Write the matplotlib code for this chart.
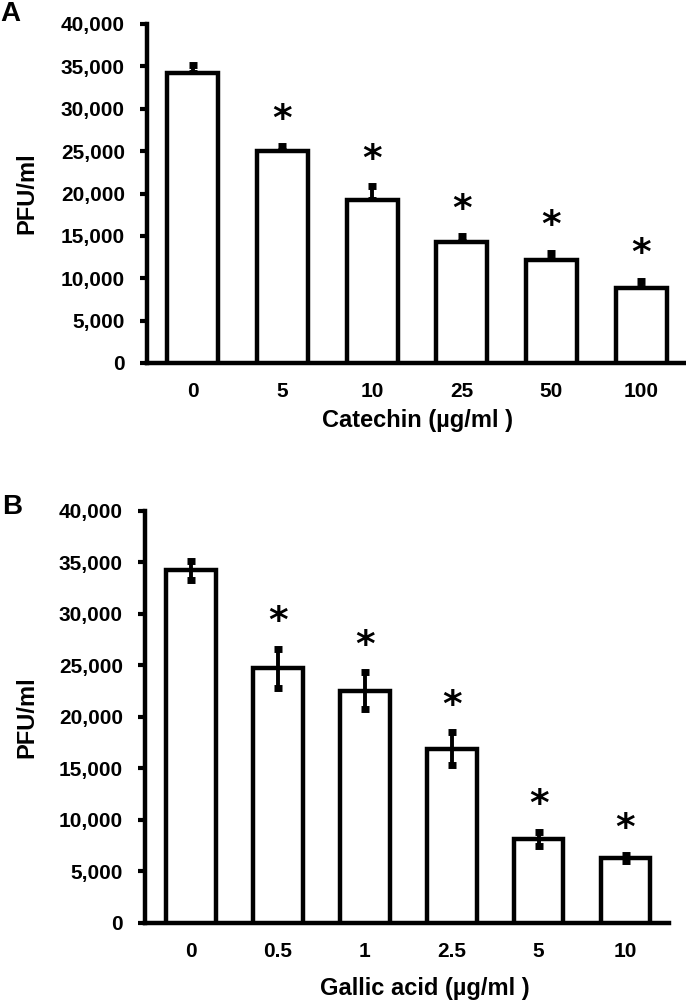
import matplotlib
matplotlib.use("Agg")
import matplotlib.pyplot as plt
from matplotlib.ticker import FuncFormatter

plt.rcParams['font.family'] = ['Liberation Sans', 'DejaVu Sans']
plt.rcParams['font.weight'] = 'bold'

# Panel A data
cat_labels = ['0', '5', '10', '25', '50', '100']
cat_values = [34200, 25000, 19200, 14300, 12200, 8800]
cat_err = [1000, 600, 1700, 700, 800, 900]
cat_sig = [False, True, True, True, True, True]

# Panel B data
gal_labels = ['0', '0.5', '1', '2.5', '5', '10']
gal_values = [34200, 24700, 22500, 16900, 8150, 6250]
gal_err = [950, 1900, 1800, 1600, 700, 300]
gal_sig = [False, True, True, True, True, True]

yticks = [0, 5000, 10000, 15000, 20000, 25000, 30000, 35000, 40000]

W, H = 686, 1006
fig = plt.figure(figsize=(W / 100, H / 100), dpi=100)

def fx(px):
    return px / W

def fy(px):
    return 1 - px / H

def draw(ax, labels, values, errs, sig, both, xlim, ylab_x):
    x = list(range(len(labels)))
    ax.bar(x, values, width=0.57, color='white', edgecolor='black', linewidth=3.2, zorder=3)
    if both:
        yerr = errs
    else:
        yerr = [[0] * len(errs), errs]
    ax.errorbar(x, values, yerr=yerr, fmt='none', ecolor='black', elinewidth=2.8,
                capsize=3, capthick=5, zorder=2 if not both else 4)
    for xi, v, e, s in zip(x, values, errs, sig):
        if s:
            ax.annotate('*', xy=(xi, v + e), xytext=(0, 6), textcoords='offset points',
                        ha='center', va='bottom', fontsize=27, fontweight='bold',
                        family=['DejaVu Sans'])
    ax.set_xlim(*xlim)
    ax.set_ylim(0, 40000)
    ax.set_yticks(yticks)
    ax.yaxis.set_major_formatter(FuncFormatter(lambda v, p: f"{int(v):,}"))
    ax.set_xticks(x)
    ax.set_xticklabels(labels)
    for sp in ['top', 'right']:
        ax.spines[sp].set_visible(False)
    for sp in ['left', 'bottom']:
        ax.spines[sp].set_linewidth(3.2)
    ax.tick_params(axis='y', direction='out', length=5, width=3, labelsize=15, pad=11)
    ax.tick_params(axis='x', length=0, labelsize=15, pad=14)
    ax.set_ylabel('PFU/ml', fontsize=17, fontweight='bold')
    ax.yaxis.set_label_coords(ylab_x, 0.5)

axA = fig.add_axes([fx(147), fy(363), fx(686 - 147), (363 - 24) / H])
draw(axA, cat_labels, cat_values, cat_err, cat_sig, False, (-0.51, 5.5), -(147 - 38) / 539)

axB = fig.add_axes([fx(145), fy(922.7), fx(669 - 145), (922.7 - 510.7) / H])
draw(axB, gal_labels, gal_values, gal_err, gal_sig, True, (-0.53, 5.5), -(145 - 38) / 524)

fig.text(fx(418), fy(420), 'Catechin (µg/ml )', fontsize=17, fontweight='bold',
         ha='center', va='center')
fig.text(fx(425), fy(988), 'Gallic acid (µg/ml )', fontsize=17, fontweight='bold',
         ha='center', va='center')

fig.text(fx(0), fy(14), 'A', fontsize=20, fontweight='bold', va='center', ha='left')
fig.text(fx(2), fy(507), 'B', fontsize=20, fontweight='bold', va='center', ha='left')

fig.savefig('out.png', dpi=100)
